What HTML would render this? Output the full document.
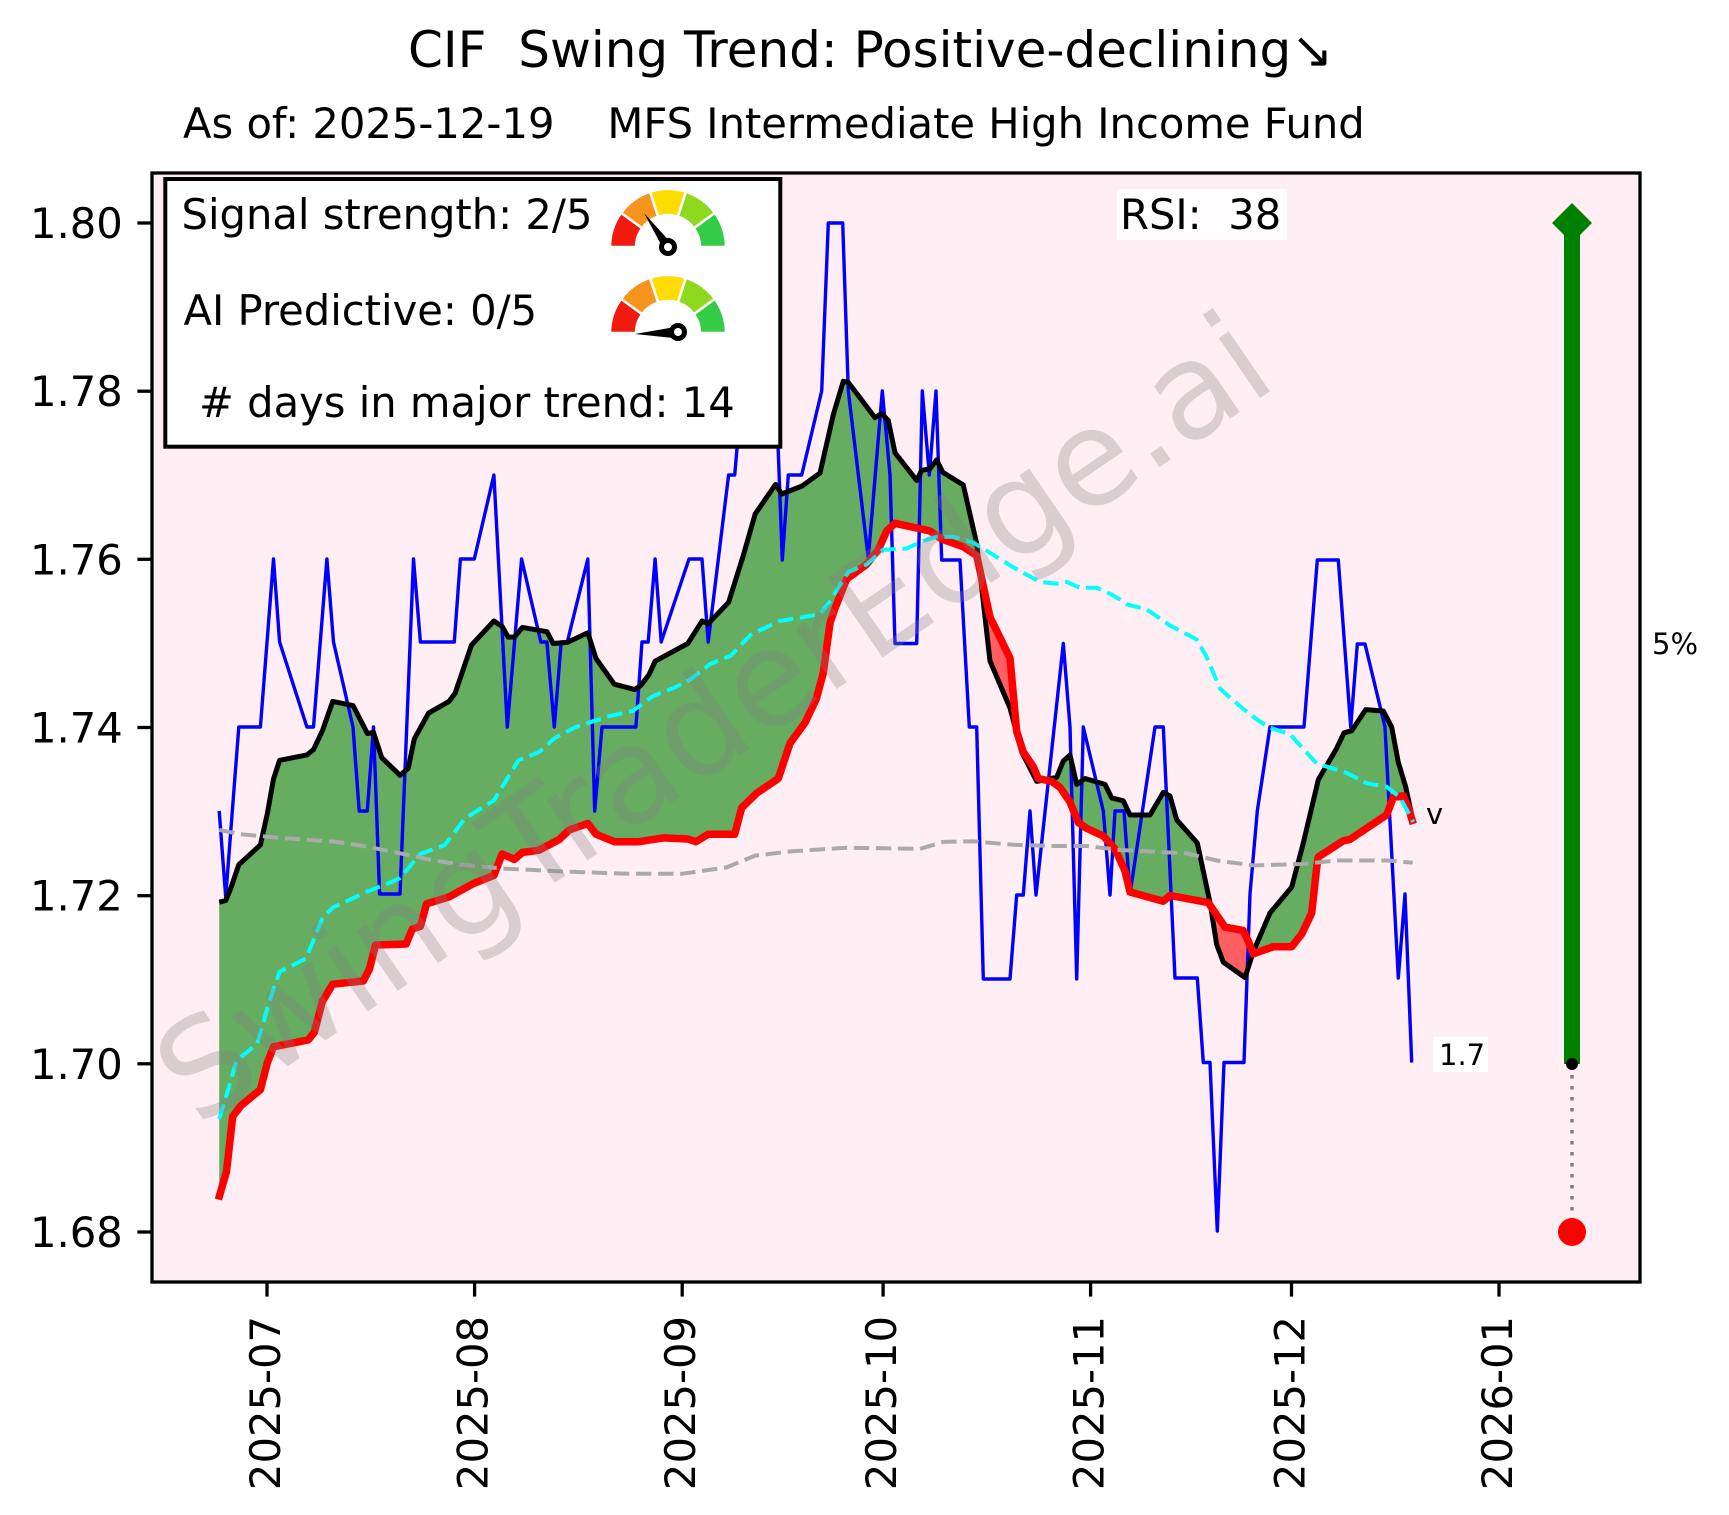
<!DOCTYPE html>
<html><head><meta charset="utf-8"><style>
html,body{margin:0;padding:0;background:#fff;}
svg{display:block;font-family:"DejaVu Sans","Liberation Sans",sans-serif;}
</style></head><body>
<svg width="1729" height="1515" viewBox="0 0 1729 1515" xmlns="http://www.w3.org/2000/svg">
<rect x="0" y="0" width="1729" height="1515" fill="#ffffff"/>
<!-- titles -->
<text x="408" y="67" font-size="50" fill="#000" xml:space="preserve">CIF  Swing Trend: Positive-declining↘</text>
<text x="183" y="138" font-size="41.67" fill="#000" xml:space="preserve">As of: 2025-12-19    MFS Intermediate High Income Fund</text>

<!-- axes background -->
<rect x="152" y="173" width="1488" height="1109" fill="#ffeef3"/>

<!-- green fill between black and red -->
<polygon fill="#66ac61" points="219.2,902.2 225.7,900.6 230.6,888.8 238.8,864.7 260.4,844.9 267.3,813.8 273.5,779 279.6,760.3 306.9,754.9 313.5,749.6 322.4,730.8 332.7,701.4 353.1,705.6 367.4,733.5 373.5,732.4 381.7,757.6 400,775.3 408.2,768.3 414.3,738.9 428.6,713.1 449,701.4 455.1,693.3 471.5,645.1 493.9,621 502.1,626.4 508.2,637.1 514.3,637.1 522.5,627.4 547,631.7 553.1,643.5 567.4,642.4 587.8,632.8 596,658.5 614.3,684.2 634.7,689.6 640.9,685.3 649,674.6 655.1,661.2 687.8,643.5 702.1,621 708.2,623.7 728.6,602.3 743.3,555.5 755.2,513.9 775.6,484.4 781.7,494 802.1,486 820,473 833.3,414.7 843.3,381.3 848.3,382.4 875,417.6 881.7,413.5 888.3,420.6 895,452.8 916.7,480.4 921.7,470.4 930,468.7 936.7,459.9 942.7,472.2 963.3,485 976.7,543.8 990,661 1010,708 1021.7,752 1036.7,781.4 1056.7,777.3 1063.3,761 1070,755 1076.7,784.4 1085,778.5 1105,784.4 1111.7,797.9 1123.3,800.8 1130,815 1150,815 1163.3,792.4 1170,796 1176.7,819.8 1197.3,843 1210,902.6 1216.7,944.6 1223.3,962.2 1245,977.6 1253.3,951.7 1270,913 1291.7,887.1 1303.3,843 1318.3,779.8 1336.7,748.2 1344,732.8 1351.7,730.7 1365.7,709.6 1383.3,711 1391.7,727.2 1398.3,762.3 1405.7,786.8 1412.7,819.8 1413.3,824 1408.3,807.8 1403.3,795.9 1393.3,797.3 1386.7,814.9 1350,839.4 1343.3,840.8 1318.3,857 1316.7,867.5 1311.7,913 1301.7,934.1 1291.7,946.7 1273.3,946.7 1253.3,953.8 1248.3,941.1 1243.3,930.6 1225,927.1 1208.3,902.6 1170,895.5 1163.3,901.2 1130,892 1125,871 1121.7,863.6 1115,849 1103.3,836 1086.7,828.4 1078.3,822.5 1070,802 1060,787.3 1051.7,781.4 1038.3,778.5 1033.3,766.7 1023.3,752 1016.7,731.5 1010,658.2 990,617.1 976.7,555.5 963.3,546.7 941.7,539.1 930,530.9 916.7,528 895,523.3 886.7,530.9 878.3,549.7 866.7,564.3 846.7,579 835,608.3 830,623 823.3,672.9 816.4,698.7 805,722.7 790,743.3 778.3,778.5 756.7,793.2 741.7,807.8 734.7,834.2 708.2,834.2 696,841.7 687.8,839 663.3,837.9 638.8,841.7 614.3,841.7 596,834.2 587.8,823.5 569.4,829.9 559.2,839.5 538.8,850.3 522.5,852.4 514.3,859.4 502.1,854 493.9,875.4 473.5,883.5 449,896.9 426.6,903.8 420.4,926.3 412.3,929 406.1,944 375.5,945.1 369.4,969.2 363.3,981 332.7,984.2 322.4,1001.3 314.3,1032.4 308.2,1039.9 273.5,1046.8 267.3,1062.9 260.4,1089.7 240.8,1105.7 232.7,1116.5 226.5,1171.6 219.2,1199.5"/>
<!-- red fills -->
<polygon fill="#ff5f61" points="979.5,568.5 990,617.1 1010,658.2 1017,732 1010,708 990,661"/>
<polygon fill="#ff5f61" points="1209,903 1225,927.1 1243.3,930.6 1248.3,941.1 1252,951 1245,977.6 1223.3,962.2 1216.7,944.6"/>

<!-- blue price -->
<polyline fill="none" stroke="#0000ff" stroke-width="3.4" stroke-linejoin="round" points="219.2,811 225.7,897 238.8,727 260.4,727 273.5,559 279.6,642 306.9,727 313.5,727 326.9,559 333.5,642 353,727 359.2,811 367.3,811 373.5,727 379.6,894 400,894 413.5,559 420.4,642 454.3,642 460.4,559 474.3,559 493.9,475 507.3,727 521.6,559 540.8,642 546.9,642 554.3,727 561.2,642 567.3,642 587.8,559 594.7,811 602,727 635.9,727 642,642 648.2,642 655.1,559 661.2,642 689,559 702,559 708.2,642 728.6,475 734.7,475 742,391 776,391 782.3,560 788.3,475 801.7,475 821.7,391 828.3,223 842.7,223 848.3,391 868.3,558 882.3,391 890,475 895,643.5 916.7,643.5 922.3,391 929.3,475 936,391 941.7,560 960,560 969.3,727 976.7,727 983.3,979 1010,979 1016.7,895 1023.3,895 1030,811 1036,895 1063.3,643.5 1070,727 1076.7,979 1083.3,727 1103.3,811 1110,895 1115,811 1124,811 1130,894 1155,727 1163.3,727 1175,978 1197.3,978 1203.3,1062.5 1210,1062.5 1217.3,1231 1224,1062.5 1244,1062.5 1250,894 1257.3,811 1270,727 1304,727 1317.3,560 1338.3,560 1350.7,727 1357.3,644 1365,644 1385,727 1398.3,978 1405,894 1411.7,1062.5"/>

<!-- black line -->
<polyline fill="none" stroke="#000" stroke-width="5" stroke-linejoin="round" points="219.2,902.2 225.7,900.6 230.6,888.8 238.8,864.7 260.4,844.9 267.3,813.8 273.5,779 279.6,760.3 306.9,754.9 313.5,749.6 322.4,730.8 332.7,701.4 353.1,705.6 367.4,733.5 373.5,732.4 381.7,757.6 400,775.3 408.2,768.3 414.3,738.9 428.6,713.1 449,701.4 455.1,693.3 471.5,645.1 493.9,621 502.1,626.4 508.2,637.1 514.3,637.1 522.5,627.4 547,631.7 553.1,643.5 567.4,642.4 587.8,632.8 596,658.5 614.3,684.2 634.7,689.6 640.9,685.3 649,674.6 655.1,661.2 687.8,643.5 702.1,621 708.2,623.7 728.6,602.3 743.3,555.5 755.2,513.9 775.6,484.4 781.7,494 802.1,486 820,473 833.3,414.7 843.3,381.3 848.3,382.4 875,417.6 881.7,413.5 888.3,420.6 895,452.8 916.7,480.4 921.7,470.4 930,468.7 936.7,459.9 942.7,472.2 963.3,485 976.7,543.8 990,661 1010,708 1021.7,752 1036.7,781.4 1056.7,777.3 1063.3,761 1070,755 1076.7,784.4 1085,778.5 1105,784.4 1111.7,797.9 1123.3,800.8 1130,815 1150,815 1163.3,792.4 1170,796 1176.7,819.8 1197.3,843 1210,902.6 1216.7,944.6 1223.3,962.2 1245,977.6 1253.3,951.7 1270,913 1291.7,887.1 1303.3,843 1318.3,779.8 1336.7,748.2 1344,732.8 1351.7,730.7 1365.7,709.6 1383.3,711 1391.7,727.2 1398.3,762.3 1405.7,786.8 1412.7,819.8"/>

<!-- red line -->
<polyline fill="none" stroke="#ff0000" stroke-width="7.5" stroke-linejoin="round" points="218.4,1199.5 226.5,1171.6 232.7,1116.5 240.8,1105.7 260.4,1089.7 267.3,1062.9 273.5,1046.8 308.2,1039.9 314.3,1032.4 322.4,1001.3 332.7,984.2 363.3,981 369.4,969.2 375.5,945.1 406.1,944 412.3,929 420.4,926.3 426.6,903.8 449,896.9 473.5,883.5 493.9,875.4 502.1,854 514.3,859.4 522.5,852.4 538.8,850.3 559.2,839.5 569.4,829.9 587.8,823.5 596,834.2 614.3,841.7 638.8,841.7 663.3,837.9 687.8,839 696,841.7 708.2,834.2 734.7,834.2 741.7,807.8 756.7,793.2 778.3,778.5 790,743.3 805,722.7 816.4,698.7 823.3,672.9 830,623 835,608.3 846.7,579 866.7,564.3 878.3,549.7 886.7,530.9 895,523.3 916.7,528 930,530.9 941.7,539.1 963.3,546.7 976.7,555.5 990,617.1 1010,658.2 1016.7,731.5 1023.3,752 1033.3,766.7 1038.3,778.5 1051.7,781.4 1060,787.3 1070,802 1078.3,822.5 1086.7,828.4 1103.3,836 1115,849 1121.7,863.6 1125,871 1130,892 1163.3,901.2 1170,895.5 1208.3,902.6 1225,927.1 1243.3,930.6 1248.3,941.1 1253.3,953.8 1273.3,946.7 1291.7,946.7 1301.7,934.1 1311.7,913 1316.7,867.5 1318.3,857 1343.3,840.8 1350,839.4 1386.7,814.9 1393.3,797.3 1403.3,795.9 1408.3,807.8 1413.3,824"/>

<!-- cyan dashed -->
<polyline fill="none" stroke="#00ffff" stroke-width="4" stroke-dasharray="15.4 6.7" points="219.2,1119.1 226.5,1095 236.7,1060.2 257.1,1044.1 269.4,1001.3 279.6,971.8 306.1,958.4 322.4,918.3 332.7,907.6 367.4,891.5 387.8,883.5 400,878.1 420.4,854 444.9,844.9 465.3,818.1 493.9,800.4 518.4,760.3 538.8,752.2 555.1,737.8 575.5,727.1 608.2,716.4 632.7,711 653.1,696 673.5,688 689.8,679.9 710.2,663.9 730.7,655.8 751.1,634.4 779.7,621 820,614.2 830,601.3 840,584.9 848.3,572 866.7,564.3 876.7,555.5 883.3,549.7 906.7,548.5 923.3,540.9 936.7,536.7 953.3,536.7 973.3,542.6 986.7,550.8 1013.3,567.3 1040,581.9 1056.7,583.7 1066.7,581.9 1080,587.8 1096.7,587.8 1110,593.7 1120,599.5 1126.7,604.4 1146.7,609.3 1170,625.5 1196.7,639.5 1206.7,657 1220,688.6 1233.3,700.5 1250,714.5 1268.3,727.2 1290,734.2 1316.7,763.6 1346.7,772.8 1366.7,783.3 1386.7,786.8 1400,797.3 1413.3,821.9"/>

<!-- gray dashed -->
<polyline fill="none" stroke="#aaaaaa" stroke-width="4" stroke-dasharray="15.4 6.7" points="219.2,829.9 240.8,834.2 281.6,838 334.7,841.7 363.3,846 396,852.4 428.6,859.4 461.2,864.7 502.1,868.5 567.4,871.7 628.6,873.8 681.7,873.8 726.6,867.4 755.1,855.6 791.9,851.3 846.7,847.7 920,848.9 943.3,841.9 973.3,841.3 1013.3,844.8 1053.3,846 1086.7,846 1120,850 1186.7,853.4 1216.7,860.5 1253.3,865.4 1303.3,864 1336.7,860.5 1386.7,860.5 1412.7,862.6"/>

<!-- right-side target marker -->
<line x1="1572" y1="1064" x2="1572" y2="1232" stroke="#808080" stroke-width="3.5" stroke-dasharray="3.5 7.5"/>
<line x1="1572" y1="1064" x2="1572" y2="225" stroke="#008000" stroke-width="16"/>
<polygon fill="#008000" points="1572,203 1592,223 1572,243 1552,223"/>
<circle cx="1572" cy="1064" r="6" fill="#000"/>
<circle cx="1572" cy="1232" r="14" fill="#ff0000"/>
<text x="1652" y="654" font-size="29" fill="#000">5%</text>

<!-- end labels -->
<text x="1426" y="824" font-size="29" fill="#000">v</text>
<rect x="1433" y="1037" width="55" height="35" fill="#ffffff"/>
<text x="1439" y="1065" font-size="29" fill="#000">1.7</text>

<!-- RSI -->
<rect x="1117" y="189" width="170" height="51" fill="#ffffff" fill-opacity="0.85"/>
<text x="1120" y="229" font-size="41.67" fill="#000" xml:space="preserve">RSI:  38</text>

<!-- watermark -->
<text x="0" y="0" transform="translate(198,1128) rotate(-34.5)" font-size="133" fill="#808080" fill-opacity="0.3">SwingTraderEdge.ai</text>

<!-- legend box -->
<rect x="165.3" y="179" width="615" height="267.7" fill="#ffffff" stroke="#000" stroke-width="4"/>
<text x="181.5" y="229" font-size="41.67" fill="#000">Signal strength: 2/5</text>
<text x="183.5" y="325" font-size="41.67" fill="#000">AI Predictive: 0/5</text>
<text x="199" y="417" font-size="41.67" fill="#000"># days in major trend: 14</text>

<!-- gauge 1 -->
<g stroke="#ffffff" stroke-width="2.5" stroke-linejoin="miter">
<path fill="#f2190f" d="M610,247 A58,58 0 0 1 621.08,212.9 L642.11,228.18 A32,32 0 0 0 636,247 Z"/>
<path fill="#f7941e" d="M621.08,212.9 A58,58 0 0 1 650.08,191.84 L658.11,216.57 A32,32 0 0 0 642.11,228.18 Z"/>
<path fill="#fedc00" d="M650.08,191.84 A58,58 0 0 1 685.92,191.84 L677.89,216.57 A32,32 0 0 0 658.11,216.57 Z"/>
<path fill="#8ed81e" d="M685.92,191.84 A58,58 0 0 1 714.92,212.9 L693.89,228.18 A32,32 0 0 0 677.89,216.57 Z"/>
<path fill="#34cc44" d="M714.92,212.9 A58,58 0 0 1 726,247 L700,247 A32,32 0 0 0 693.89,228.18 Z"/>
</g>
<polygon fill="#000" points="644,213 672.1,244.1 663.9,249.9"/>
<circle cx="668" cy="247" r="9" fill="#000"/>
<circle cx="668" cy="247" r="4" fill="#fff"/>

<!-- gauge 2 -->
<g transform="translate(0,86)" stroke="#ffffff" stroke-width="2.5">
<path fill="#f2190f" d="M610,247 A58,58 0 0 1 621.08,212.9 L642.11,228.18 A32,32 0 0 0 636,247 Z"/>
<path fill="#f7941e" d="M621.08,212.9 A58,58 0 0 1 650.08,191.84 L658.11,216.57 A32,32 0 0 0 642.11,228.18 Z"/>
<path fill="#fedc00" d="M650.08,191.84 A58,58 0 0 1 685.92,191.84 L677.89,216.57 A32,32 0 0 0 658.11,216.57 Z"/>
<path fill="#8ed81e" d="M685.92,191.84 A58,58 0 0 1 714.92,212.9 L693.89,228.18 A32,32 0 0 0 677.89,216.57 Z"/>
<path fill="#34cc44" d="M714.92,212.9 A58,58 0 0 1 726,247 L700,247 A32,32 0 0 0 693.89,228.18 Z"/>
</g>
<polygon fill="#000" points="635,334 678,326.5 678,338.5"/>
<circle cx="678" cy="332" r="9" fill="#000"/>
<circle cx="678" cy="332" r="4" fill="#fff"/>

<!-- axes frame -->
<rect x="152" y="173" width="1488" height="1109" fill="none" stroke="#000" stroke-width="3.3"/>

<!-- y ticks -->
<g stroke="#000" stroke-width="3.3">
<line x1="137.4" y1="223" x2="152" y2="223"/>
<line x1="137.4" y1="391.2" x2="152" y2="391.2"/>
<line x1="137.4" y1="559.3" x2="152" y2="559.3"/>
<line x1="137.4" y1="727.5" x2="152" y2="727.5"/>
<line x1="137.4" y1="895.7" x2="152" y2="895.7"/>
<line x1="137.4" y1="1063.8" x2="152" y2="1063.8"/>
<line x1="137.4" y1="1232" x2="152" y2="1232"/>
</g>
<g font-size="41.67" fill="#000" text-anchor="end">
<text x="122.8" y="238">1.80</text>
<text x="122.8" y="406.2">1.78</text>
<text x="122.8" y="574.3">1.76</text>
<text x="122.8" y="742.5">1.74</text>
<text x="122.8" y="910.7">1.72</text>
<text x="122.8" y="1078.8">1.70</text>
<text x="122.8" y="1247">1.68</text>
</g>

<!-- x ticks -->
<g stroke="#000" stroke-width="3.3">
<line x1="267" y1="1282" x2="267" y2="1296.6"/>
<line x1="474.6" y1="1282" x2="474.6" y2="1296.6"/>
<line x1="682.2" y1="1282" x2="682.2" y2="1296.6"/>
<line x1="883.1" y1="1282" x2="883.1" y2="1296.6"/>
<line x1="1090.6" y1="1282" x2="1090.6" y2="1296.6"/>
<line x1="1291.5" y1="1282" x2="1291.5" y2="1296.6"/>
<line x1="1499" y1="1282" x2="1499" y2="1296.6"/>
</g>
<g font-size="41.67" fill="#000" text-anchor="end">
<text transform="translate(280,1316) rotate(-90)">2025-07</text>
<text transform="translate(487.6,1316) rotate(-90)">2025-08</text>
<text transform="translate(695.2,1316) rotate(-90)">2025-09</text>
<text transform="translate(896.1,1316) rotate(-90)">2025-10</text>
<text transform="translate(1103.6,1316) rotate(-90)">2025-11</text>
<text transform="translate(1304.5,1316) rotate(-90)">2025-12</text>
<text transform="translate(1512,1316) rotate(-90)">2026-01</text>
</g>
</svg>
</body></html>
